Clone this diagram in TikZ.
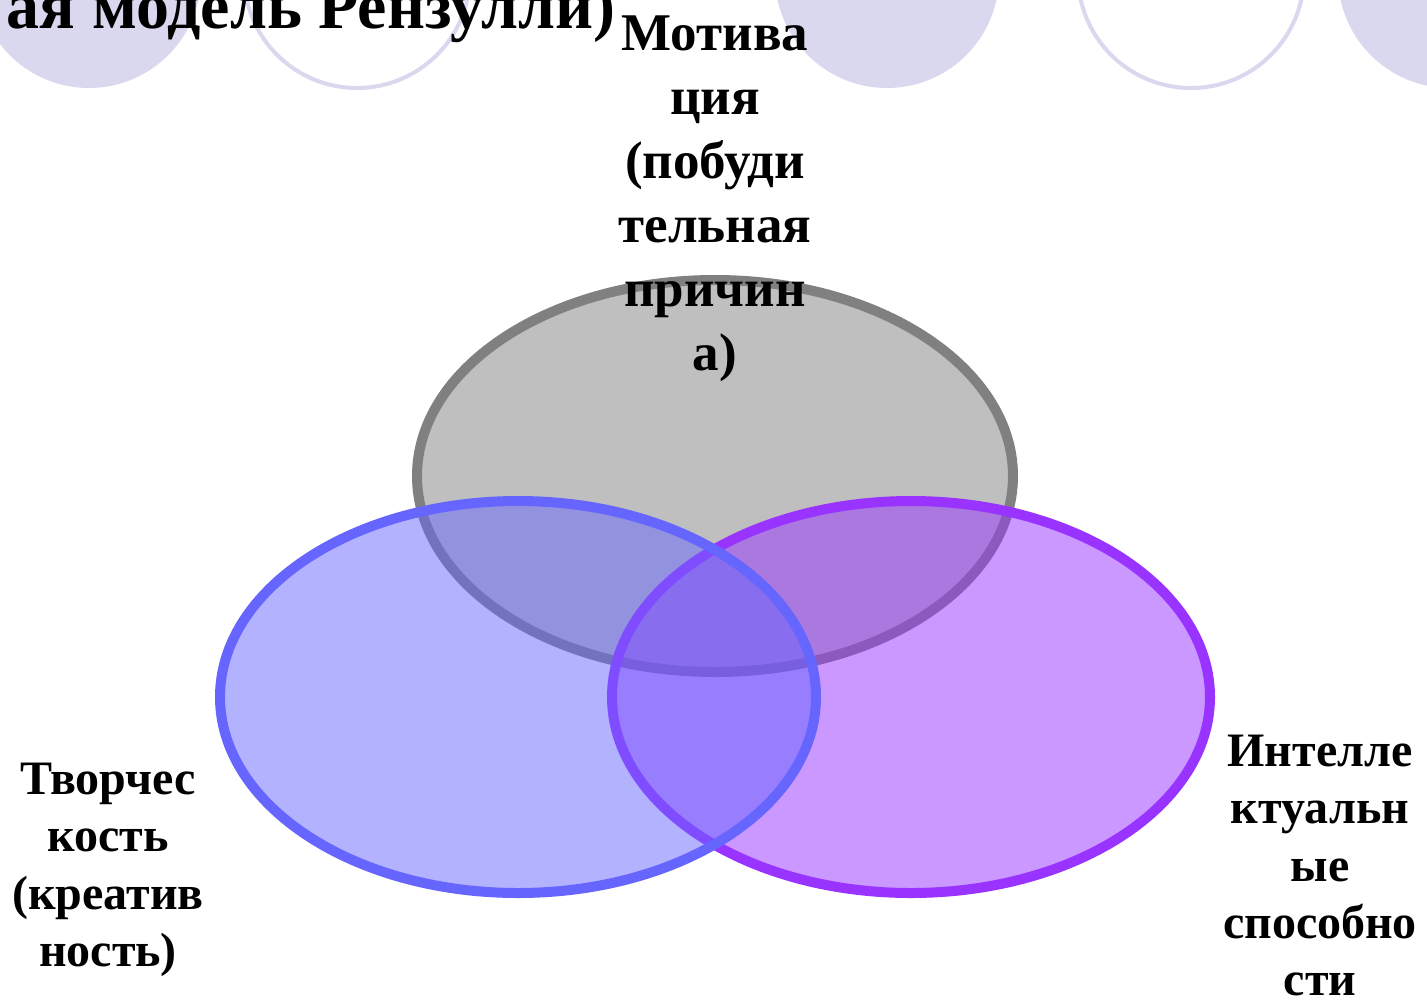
\documentclass[tikz,border=0pt]{standalone}
\usepackage{fontspec}
\setmainfont{Liberation Serif}
\definecolor{lav}{RGB}{218,216,238}
\definecolor{ggray}{RGB}{128,128,128}
\definecolor{gblue}{RGB}{102,102,255}
\definecolor{gpurple}{RGB}{153,51,255}
\tikzset{
  decodisc/.style={fill=lav},
  decoring/.style={draw=lav,line width=4pt,fill=white},
  setring/.style={line width=10pt,fill opacity=0.5},
  lbltop/.style={align=center,inner sep=0pt,anchor=north,font=\bfseries\fontsize{53}{64}\selectfont},
  lblbot/.style={align=center,inner sep=0pt,anchor=north,font=\bfseries\fontsize{48}{57.3}\selectfont},
  titletext/.style={inner sep=0pt,anchor=base east,font=\bfseries\fontsize{66}{72}\selectfont},
}
\begin{document}
\begin{tikzpicture}[x=1pt,y=-1pt]
\useasboundingbox (0,0) rectangle (1427,1002);
\clip (0,0) rectangle (1427,1002);
\fill[white] (0,0) rectangle (1427,1002);
% decorative circles
\fill[decodisc] (89,-24) circle [radius=112];
\draw[decoring] (357,-25) circle [radius=113];
\fill[decodisc] (887,-24) circle [radius=112];
\draw[decoring] (1191,-25) circle [radius=113];
\fill[decodisc] (1450,-24) circle [radius=112];
% title
\node[titletext] (title) at (616,28) {ая модель Рензулли)};
% sets
\draw[setring,draw=ggray,fill=ggray] (715,476) ellipse [x radius=298, y radius=196];
\draw[setring,draw=gpurple,fill=gpurple] (911,697) ellipse [x radius=299, y radius=196];
\draw[setring,draw=gblue,fill=gblue] (518,697) ellipse [x radius=298, y radius=196];
% labels
\node[lbltop] (motiv) at (715,16) {Мотива\\ция\\(побуди\\тельная\\причин\\а)};
\node[lblbot] (creat) at (108,763) {Творчес\\кость\\(креатив\\ность)};
\node[lblbot] (intel) at (1320,735) {Интелле\\ктуальн\\ые\\способно\\сти};
\end{tikzpicture}
\end{document}
